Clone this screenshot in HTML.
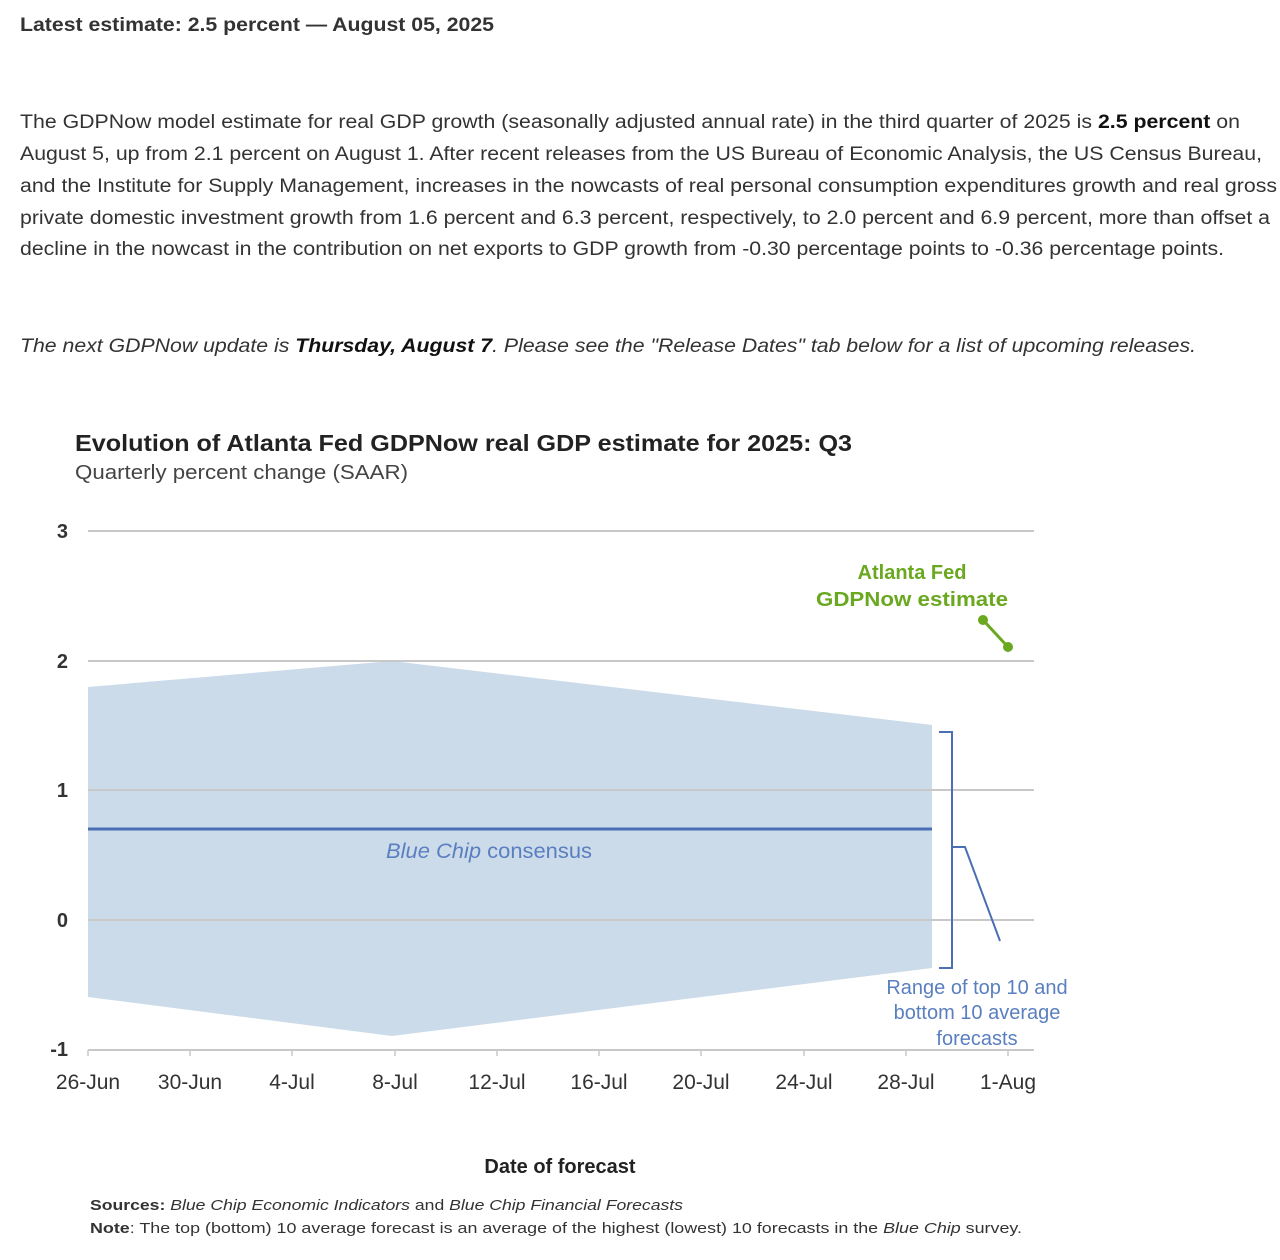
<!DOCTYPE html>
<html><head><meta charset="utf-8"><style>
html,body{margin:0;padding:0;background:#fff;width:1280px;height:1260px;overflow:hidden}
svg{display:block}
</style></head><body>
<svg width="1280" height="1260" viewBox="0 0 1280 1260" xmlns="http://www.w3.org/2000/svg" font-family="Liberation Sans, sans-serif">
<g fill="#333" font-size="19">
<text x="20" y="31" font-weight="bold" font-size="19" textLength="474" lengthAdjust="spacingAndGlyphs">Latest estimate: 2.5 percent — August 05, 2025</text>
<text x="20" y="128" textLength="1220" lengthAdjust="spacingAndGlyphs">The GDPNow model estimate for real GDP growth (seasonally adjusted annual rate) in the third quarter of 2025 is <tspan font-weight="bold" fill="#111">2.5 percent</tspan> on</text>
<text x="20" y="160" textLength="1242" lengthAdjust="spacingAndGlyphs">August 5, up from 2.1 percent on August 1. After recent releases from the US Bureau of Economic Analysis, the US Census Bureau,</text>
<text x="20" y="192" textLength="1257" lengthAdjust="spacingAndGlyphs">and the Institute for Supply Management, increases in the nowcasts of real personal consumption expenditures growth and real gross</text>
<text x="20" y="224" textLength="1250" lengthAdjust="spacingAndGlyphs">private domestic investment growth from 1.6 percent and 6.3 percent, respectively, to 2.0 percent and 6.9 percent, more than offset a</text>
<text x="20" y="255" textLength="1204" lengthAdjust="spacingAndGlyphs">decline in the nowcast in the contribution on net exports to GDP growth from -0.30 percentage points to -0.36 percentage points.</text>
<text x="20" y="352" font-style="italic" textLength="1176" lengthAdjust="spacingAndGlyphs">The next GDPNow update is <tspan font-weight="bold" fill="#111">Thursday, August 7</tspan>. Please see the "Release Dates" tab below for a list of upcoming releases.</text>
</g>
<text x="75" y="451" font-size="23" font-weight="bold" fill="#222" textLength="777" lengthAdjust="spacingAndGlyphs">Evolution of Atlanta Fed GDPNow real GDP estimate for 2025: Q3</text>
<text x="75" y="479" font-size="20" fill="#444" textLength="333" lengthAdjust="spacingAndGlyphs">Quarterly percent change (SAAR)</text>
<polygon points="88,687 392,661 932,725 932,968 392,1036 88,997" fill="#ccdbea"/>
<g stroke="#c8c8c8" stroke-width="2">
<line x1="88" y1="531" x2="1034" y2="531"/>
<line x1="88" y1="661" x2="1034" y2="661"/>
<line x1="88" y1="790" x2="1034" y2="790"/>
<line x1="88" y1="920" x2="1034" y2="920"/>
<line x1="88" y1="1050" x2="1034" y2="1050"/>
</g>
<g stroke="#c8c8c8" stroke-width="1.5">
<line x1="88" y1="1050" x2="88" y2="1056"/><line x1="190" y1="1050" x2="190" y2="1056"/><line x1="292" y1="1050" x2="292" y2="1056"/><line x1="395" y1="1050" x2="395" y2="1056"/><line x1="497" y1="1050" x2="497" y2="1056"/><line x1="599" y1="1050" x2="599" y2="1056"/><line x1="701" y1="1050" x2="701" y2="1056"/><line x1="804" y1="1050" x2="804" y2="1056"/><line x1="906" y1="1050" x2="906" y2="1056"/><line x1="1008" y1="1050" x2="1008" y2="1056"/>
</g>
<line x1="88" y1="829" x2="932" y2="829" stroke="#4a6fb5" stroke-width="3"/>
<text x="386" y="858" font-size="21" fill="#5a7fc0" textLength="206" lengthAdjust="spacingAndGlyphs"><tspan font-style="italic">Blue Chip</tspan> consensus</text>
<g font-size="20" fill="#333" font-weight="bold" text-anchor="end">
<text x="68" y="538">3</text><text x="68" y="668">2</text><text x="68" y="797">1</text><text x="68" y="927">0</text><text x="68" y="1056">-1</text>
</g>
<g font-size="21" fill="#333" text-anchor="middle">
<text x="88" y="1089">26-Jun</text><text x="190" y="1089">30-Jun</text><text x="292" y="1089">4-Jul</text><text x="395" y="1089">8-Jul</text><text x="497" y="1089">12-Jul</text><text x="599" y="1089">16-Jul</text><text x="701" y="1089">20-Jul</text><text x="804" y="1089">24-Jul</text><text x="906" y="1089">28-Jul</text><text x="1008" y="1089">1-Aug</text>
</g>
<path d="M939,732 H952 V968 H939" fill="none" stroke="#4a6fb5" stroke-width="2"/>
<path d="M952,847 H965 L1000,941" fill="none" stroke="#4a6fb5" stroke-width="2"/>
<g font-size="20" fill="#5a7fc0" text-anchor="middle">
<text x="977" y="994">Range of top 10 and</text>
<text x="977" y="1019">bottom 10 average</text>
<text x="977" y="1045">forecasts</text>
</g>
<g font-size="20" font-weight="bold" fill="#6aa820" text-anchor="middle">
<text x="912" y="579">Atlanta Fed</text>
<text x="912" y="606" textLength="192" lengthAdjust="spacingAndGlyphs">GDPNow estimate</text>
</g>
<line x1="983" y1="620" x2="1008" y2="647" stroke="#6aa820" stroke-width="3"/>
<circle cx="983" cy="620" r="5" fill="#6aa820"/>
<circle cx="1008" cy="647" r="5" fill="#6aa820"/>
<text x="560" y="1173" font-size="20" font-weight="bold" fill="#222" text-anchor="middle">Date of forecast</text>
<text x="90" y="1210" font-size="15" fill="#333" textLength="593" lengthAdjust="spacingAndGlyphs"><tspan font-weight="bold">Sources:</tspan> <tspan font-style="italic">Blue Chip Economic Indicators</tspan> and <tspan font-style="italic">Blue Chip Financial Forecasts</tspan></text>
<text x="90" y="1233" font-size="15" fill="#333" textLength="932" lengthAdjust="spacingAndGlyphs"><tspan font-weight="bold">Note</tspan>: The top (bottom) 10 average forecast is an average of the highest (lowest) 10 forecasts in the <tspan font-style="italic">Blue Chip</tspan> survey.</text>
</svg>
</body></html>
